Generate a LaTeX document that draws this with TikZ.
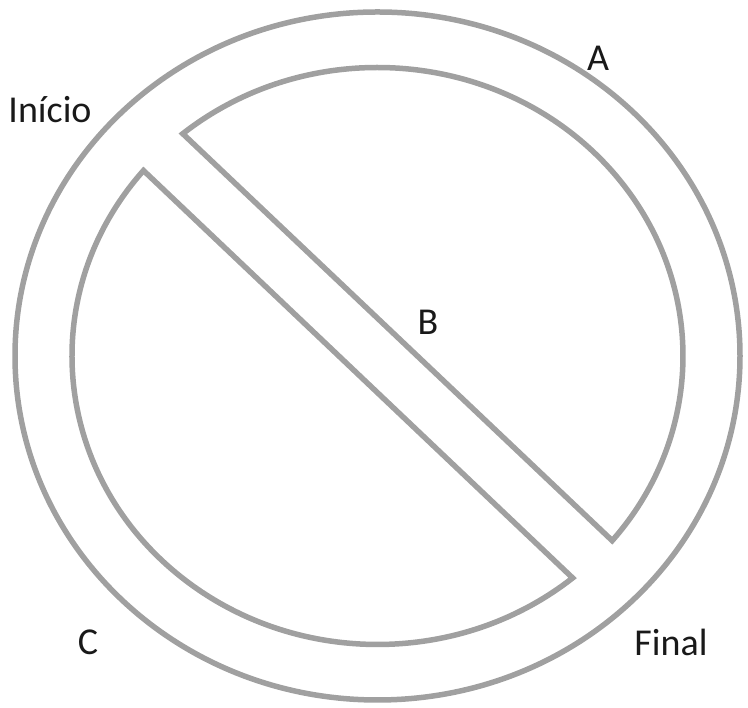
\documentclass[tikz,border=0pt]{standalone}
\usepackage{fontspec}
\setmainfont{Carlito}
\definecolor{ringgray}{RGB}{160,160,160}
\definecolor{txt}{RGB}{25,25,25}
\tikzset{
  ring/.style={draw=ringgray, line width=5.5pt},
  lbl/.style={text=txt, font=\fontsize{38}{42}\selectfont, inner sep=0pt}
}
\begin{document}
\begin{tikzpicture}[x=1pt,y=1pt]
\useasboundingbox (0,0) rectangle (748,708);
\begin{scope}[shift={(377.5,352)}]
  % outer ring
  \draw[ring] (0,0) ellipse[x radius=362.5, y radius=344];
  % upper-right half
  \draw[ring] (129.6:305.5 and 288.5) arc[start angle=129.6, end angle=-39.8, x radius=305.5, y radius=288.5] -- cycle;
  % lower-left half
  \draw[ring] (140:305.5 and 288.5) arc[start angle=140, end angle=309.7, x radius=305.5, y radius=288.5] -- cycle;
\end{scope}
\node[lbl] (inicio) at (50,598) {Início};
\node[lbl] (a) at (598,650) {A};
\node[lbl] (b) at (428,386) {B};
\node[lbl] (c) at (88,66) {C};
\node[lbl] (final) at (671,66) {Final};
\end{tikzpicture}
\end{document}
